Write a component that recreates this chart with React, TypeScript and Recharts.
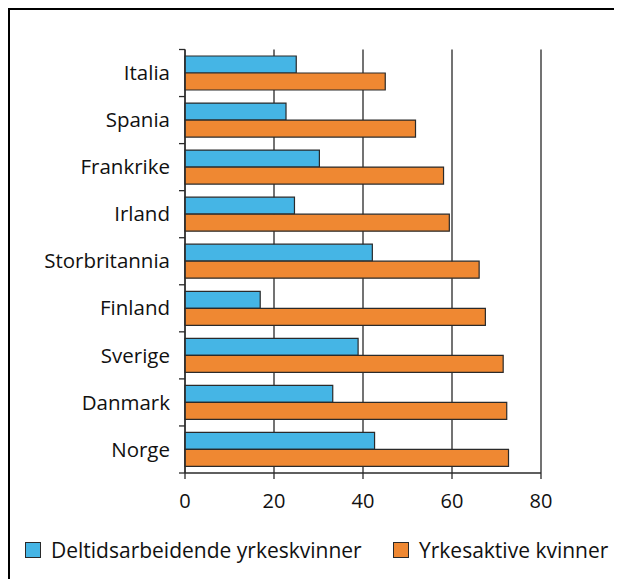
import { BarChart, Bar, XAxis, YAxis, CartesianGrid } from 'recharts';

const countries = ['Italia', 'Spania', 'Frankrike', 'Irland', 'Storbritannia', 'Finland', 'Sverige', 'Danmark', 'Norge'];
const deltid = [25, 22.7, 30.2, 24.6, 42.1, 16.9, 38.9, 33.2, 42.6];
const yrkesaktive = [45, 51.8, 58.1, 59.4, 66.1, 67.5, 71.5, 72.3, 72.7];
const xTicks = [0, 20, 40, 60, 80];

const COLORS = {
  blue: '#45b5e5',
  orange: '#ef8832',
  stroke: '#2a2a2a',
  grid: '#444',
  text: '#111',
};

const FONT = '"Open Sans", sans-serif';
const W = 622;
const H = 587;
const MARGIN = { top: 49.5, right: 81, bottom: 84, left: 0 };
const X_AXIS_H = 30;
const BAND = (H - MARGIN.top - MARGIN.bottom - X_AXIS_H) / countries.length;

const data = countries.map((name, i) => ({ name, deltid: deltid[i], yrkesaktive: yrkesaktive[i] }));

function CountryTick(props: any) {
  const { x, y, payload, index } = props;
  const axisX = x + 9 + 6;
  return (
    <g>
      <line x1={axisX - 6} x2={axisX} y1={y - BAND / 2} y2={y - BAND / 2} stroke={COLORS.stroke} strokeWidth={1.3} />
      {index === countries.length - 1 && (
        <line x1={axisX - 6} x2={axisX} y1={y + BAND / 2} y2={y + BAND / 2} stroke={COLORS.stroke} strokeWidth={1.3} />
      )}
      <text x={x} y={y} dy="0.35em" textAnchor="end" fill={COLORS.text} fontSize={20.5} fontFamily={FONT}>
        {payload.value}
      </text>
    </g>
  );
}

function LegendItem({ color, label, width }: { color: string; label: string; width: number }) {
  return (
    <span style={{ display: 'inline-flex', alignItems: 'center', width }}>
      <span style={{ width: 14, height: 14, background: color, border: `1.5px solid ${COLORS.stroke}`, marginRight: 10 }} />
      {label}
    </span>
  );
}

export default function App() {
  return (
    <div style={{ margin: -8, position: 'relative', width: W, height: H, background: '#fff' }}>
      <div
        style={{
          position: 'absolute',
          left: 7,
          top: 7,
          width: W - 10,
          height: H - 10,
          borderLeft: '3px solid #000',
          borderTop: '3px solid #000',
        }}
      />
      <div style={{ position: 'absolute', left: 0, top: 0 }}>
        <BarChart
          width={W}
          height={H}
          data={data}
          layout="vertical"
          margin={MARGIN}
          barCategoryGap={6.5}
          barGap={0}
        >
          <CartesianGrid horizontal={false} stroke={COLORS.grid} strokeWidth={1.5} />
          <XAxis
            type="number"
            domain={[0, 80]}
            ticks={xTicks}
            height={X_AXIS_H}
            stroke={COLORS.stroke}
            strokeWidth={1.3}
            tickSize={6}
            tickMargin={15}
            tick={{ fill: COLORS.text, fontSize: 20, fontFamily: FONT }}
          />
          <XAxis xAxisId="top" orientation="top" type="number" domain={[0, 80]} height={0} tick={false} tickLine={false} stroke={COLORS.grid} strokeWidth={1.5} />
          <YAxis
            type="category"
            dataKey="name"
            width={185}
            stroke={COLORS.stroke}
            strokeWidth={1.3}
            tickLine={false}
            tickSize={6}
            tickMargin={9}
            tick={<CountryTick />}
            interval={0}
          />
          <Bar dataKey="deltid" fill={COLORS.blue} stroke={COLORS.stroke} strokeWidth={1.2} isAnimationActive={false} />
          <Bar dataKey="yrkesaktive" fill={COLORS.orange} stroke={COLORS.stroke} strokeWidth={1.2} isAnimationActive={false} />
        </BarChart>
      </div>
      <div
        style={{
          position: 'absolute',
          left: 25,
          top: 536,
          display: 'flex',
          fontFamily: FONT,
          fontSize: 21,
          color: COLORS.text,
          whiteSpace: 'nowrap',
        }}
      >
        <LegendItem color={COLORS.blue} label="Deltidsarbeidende yrkeskvinner" width={368} />
        <LegendItem color={COLORS.orange} label="Yrkesaktive kvinner" width={220} />
      </div>
    </div>
  );
}
